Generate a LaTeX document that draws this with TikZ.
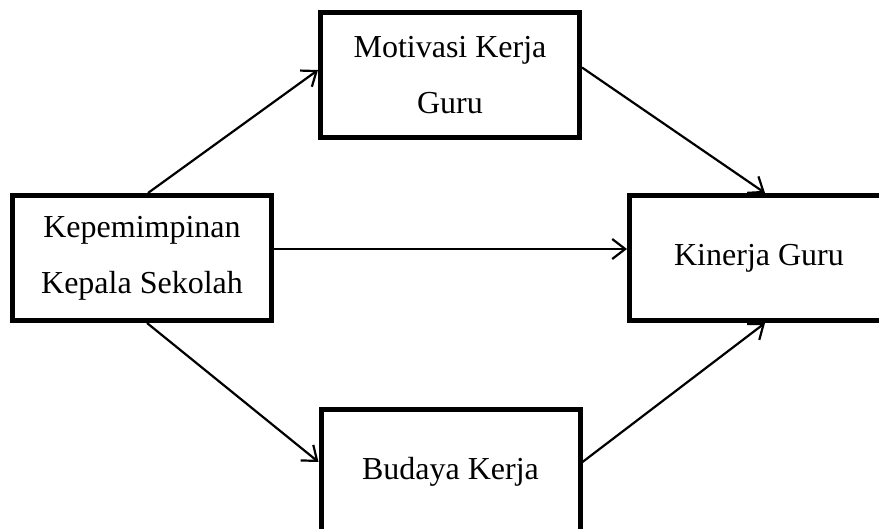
\documentclass[tikz,border=0pt]{standalone}
\usepackage{fontspec}
\setmainfont{Liberation Serif}
\usetikzlibrary{arrows.meta}

\begin{document}
\begin{tikzpicture}[x=0.5pt,y=-0.5pt]
	\tikzset{>={Straight Barb[length=6.5pt,width=10pt]}}
	\tikzset{kotak/.style={draw,line width=2.5pt,minimum width=129.5pt,minimum height=62.5pt,inner sep=0pt,align=center,font=\fontsize{16}{28}\selectfont}}
	\useasboundingbox (0,0) rectangle (879,529);
	\clip (0,0) rectangle (879,529);
	
	
	\coordinate (K) at (142,258);
	\coordinate (M) at (450,75.5);
	\coordinate (B) at (450.5,472);
	\coordinate (G) at (774,258);
	
	
	\node[kotak] (kepala) at (K) {Kepemimpinan\\Kepala Sekolah};
	\node[kotak] (motivasi) at (M) {Motivasi Kerja\\Guru};
	\node[kotak] (budaya) at (B) {Budaya Kerja};
	\node[kotak,minimum width=144.5pt] (kinerja) at (G) {Kinerja Guru\hspace*{15pt}};
	
	\draw[->,line width=1.1pt] ([xshift=3pt]kepala.north) -- ([yshift=2.75pt]motivasi.west);
	\draw[->,line width=1.1pt] ([yshift=4pt]motivasi.east) -- ([xshift=-4.5pt]kinerja.north);
	\draw[->,line width=1.1pt] ([yshift=4.5pt]kepala.east) -- ([yshift=4.5pt]kinerja.west);
	\draw[->,line width=1.1pt] ([xshift=2.5pt]kepala.south) -- ([yshift=5pt]budaya.west);
	\draw[->,line width=1.1pt] ([yshift=5pt]budaya.east) -- ([xshift=-4.5pt]kinerja.south);
	
	
	
	%	\draw[help lines] (0,0) grid[step=50] (879,529);
	
\end{tikzpicture}
\end{document}
